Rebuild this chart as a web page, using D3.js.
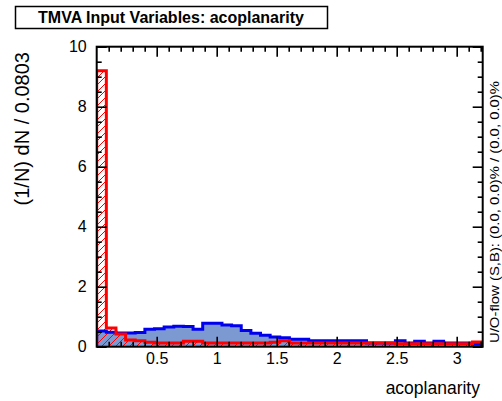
<!DOCTYPE html>
<html>
<head>
<meta charset="utf-8">
<script src="https://cdn.jsdelivr.net/npm/d3@7"></script>
<style>
  body { margin: 0; background: #fff; }
  text { font-family: "Liberation Sans", Arial, Helvetica, sans-serif; }
</style>
</head>
<body>
<div class="render"></div>
<script>
// histogram setup, 40 bins of 0.0803
var binWidth = 0.0803;
var signal = [0.52, 0.48, 0.46, 0.46, 0.47, 0.58, 0.60, 0.66, 0.68, 0.67,
              0.58, 0.78, 0.78, 0.72, 0.70, 0.54, 0.45, 0.38, 0.32, 0.30,
              0.25, 0.25, 0.20, 0.20, 0.20, 0.20, 0.20, 0.20, 0.12, 0.12,
              0.12, 0.20, 0.12, 0.18, 0.12, 0.18, 0.12, 0.12, 0.12, 0.08];
var background = [9.20, 0.62, 0.42, 0.22, 0.20, 0.15, 0.12, 0.12, 0.12, 0.18,
                  0.18, 0.12, 0.12, 0.12, 0.12, 0.12, 0.12, 0.12, 0.15, 0.20,
                  0.12, 0.12, 0.12, 0.12, 0.12, 0.12, 0.12, 0.12, 0.12, 0.12,
                  0.12, 0.10, 0.10, 0.10, 0.10, 0.10, 0.10, 0.10, 0.10, 0.16];
var xTicks = [0.5, 1, 1.5, 2, 2.5, 3];
var yTicks = [0, 2, 4, 6, 8, 10];

var title = "TMVA Input Variables: acoplanarity";
var xTitle = "acoplanarity";
var yTitle = "(1/N) dN / 0.0803";
var flowText = "U/O-flow (S,B): (0.0, 0.0)% / (0.0, 0.0)%";

var W = 502, H = 401;
// note: "top" is taken by window.top, so prefix these
var padL = 96.7, padR = 482.7, padT = 46.7, padB = 346.7;

var svg = d3.select(".render").append("svg")
    .attr("width", W).attr("height", H);

var x = d3.scaleLinear().domain([0, 386 / 120]).range([padL, padR]);
var y = d3.scaleLinear().domain([0, 10]).range([padB, padT]);

var defs = svg.append("defs");
var pat = defs.append("pattern")
    .attr("id", "hatch")
    .attr("patternUnits", "userSpaceOnUse")
    .attr("width", 7).attr("height", 7);
pat.append("path")
    .attr("d", "M-1,8 L8,-1 M-1,1 L1,-1 M6,8 L8,6")
    .attr("stroke", "#ff0000")
    .attr("stroke-width", 1);
defs.append("clipPath").attr("id", "plotclip")
  .append("rect")
    .attr("x", padL).attr("y", padT - 2)
    .attr("width", padR - padL).attr("height", padB - padT + 2);

function stepPoints(vals) {
    var pts = [[0, 0]];
    vals.forEach(function (v, i) { pts.push([i * binWidth, v]); });
    pts.push([vals.length * binWidth, vals[vals.length - 1]]);
    pts.push([vals.length * binWidth, 0]);
    return pts;
}

var area = d3.area()
    .x(function (d) { return x(d[0]); })
    .y0(y(0))
    .y1(function (d) { return y(d[1]); })
    .curve(d3.curveStepAfter);
var line = d3.line()
    .x(function (d) { return x(d[0]); })
    .y(function (d) { return y(d[1]); })
    .curve(d3.curveStepAfter);

var g = svg.append("g").attr("clip-path", "url(#plotclip)");
g.append("path")
    .attr("d", area(stepPoints(signal)))
    .attr("fill", "#7d99d1");
g.append("path")
    .attr("d", area(stepPoints(background)))
    .attr("fill", "url(#hatch)");
g.append("path")
    .attr("d", line(stepPoints(signal)))
    .attr("fill", "none")
    .attr("stroke", "#0000ee")
    .attr("stroke-width", 3);
g.append("path")
    .attr("d", line(stepPoints(background)))
    .attr("fill", "none")
    .attr("stroke", "#ff0000")
    .attr("stroke-width", 3);

// axes, ticks pointing inside like ROOT
var xMinor = d3.range(1, 33).map(function (i) { return i / 10; })
    .filter(function (v) { return Math.abs(v * 2 - Math.round(v * 2)) > 1e-6; });
var yMinor = d3.range(1, 20).map(function (i) { return i / 2; })
    .filter(function (v) { return v % 2 !== 0; });

function styleAxis(sel) {
    sel.select(".domain").remove();
    sel.selectAll(".tick line").attr("stroke", "#000").attr("stroke-width", 1.6);
    sel.selectAll(".tick text").attr("fill", "#000")
        .style("font-size", "16px")
        .style("font-family", "'Liberation Sans', Arial, sans-serif");
}

svg.append("g").attr("transform", "translate(0," + padB + ")")
    .call(d3.axisBottom(x).tickValues(xTicks).tickSize(-10).tickPadding(6)
        .tickFormat(d3.format("")))
    .call(styleAxis);
svg.append("g").attr("transform", "translate(0," + padB + ")")
    .call(d3.axisBottom(x).tickValues(xMinor).tickSize(-5).tickFormat(""))
    .call(styleAxis);
svg.append("g").attr("transform", "translate(0," + padT + ")")
    .call(d3.axisTop(x).tickValues(xTicks).tickSize(-10).tickFormat(""))
    .call(styleAxis);
svg.append("g").attr("transform", "translate(0," + padT + ")")
    .call(d3.axisTop(x).tickValues(xMinor).tickSize(-5).tickFormat(""))
    .call(styleAxis);

svg.append("g").attr("transform", "translate(" + padL + ",0)")
    .call(d3.axisLeft(y).tickValues(yTicks).tickSize(-10).tickPadding(10))
    .call(styleAxis);
svg.append("g").attr("transform", "translate(" + padL + ",0)")
    .call(d3.axisLeft(y).tickValues(yMinor).tickSize(-5).tickFormat(""))
    .call(styleAxis);
svg.append("g").attr("transform", "translate(" + padR + ",0)")
    .call(d3.axisRight(y).tickValues(yTicks).tickSize(-10).tickFormat(""))
    .call(styleAxis);
svg.append("g").attr("transform", "translate(" + padR + ",0)")
    .call(d3.axisRight(y).tickValues(yMinor).tickSize(-5).tickFormat(""))
    .call(styleAxis);

svg.append("rect")
    .attr("x", padL).attr("y", padT)
    .attr("width", padR - padL).attr("height", padB - padT)
    .attr("fill", "none").attr("stroke", "#000").attr("stroke-width", 2);

// titles
svg.append("rect")
    .attr("x", 15.5).attr("y", 6.5).attr("width", 312).attr("height", 22)
    .attr("fill", "#fff").attr("stroke", "#000").attr("stroke-width", 1.5);
svg.append("text")
    .attr("x", 171).attr("y", 23)
    .attr("text-anchor", "middle")
    .style("font-size", "16px").style("font-weight", "bold")
    .text(title);

svg.append("text")
    .attr("x", 480).attr("y", 394)
    .attr("text-anchor", "end")
    .style("font-size", "17.5px")
    .text(xTitle);

svg.append("text")
    .attr("transform", "translate(28.5,52) rotate(-90)")
    .attr("text-anchor", "end")
    .style("font-size", "20px")
    .text(yTitle);

svg.append("text")
    .attr("transform", "translate(499,343) rotate(-90)")
    .attr("text-anchor", "start")
    .attr("textLength", 262)
    .attr("lengthAdjust", "spacingAndGlyphs")
    .style("font-size", "13px")
    .text(flowText);
</script>
</body>
</html>
